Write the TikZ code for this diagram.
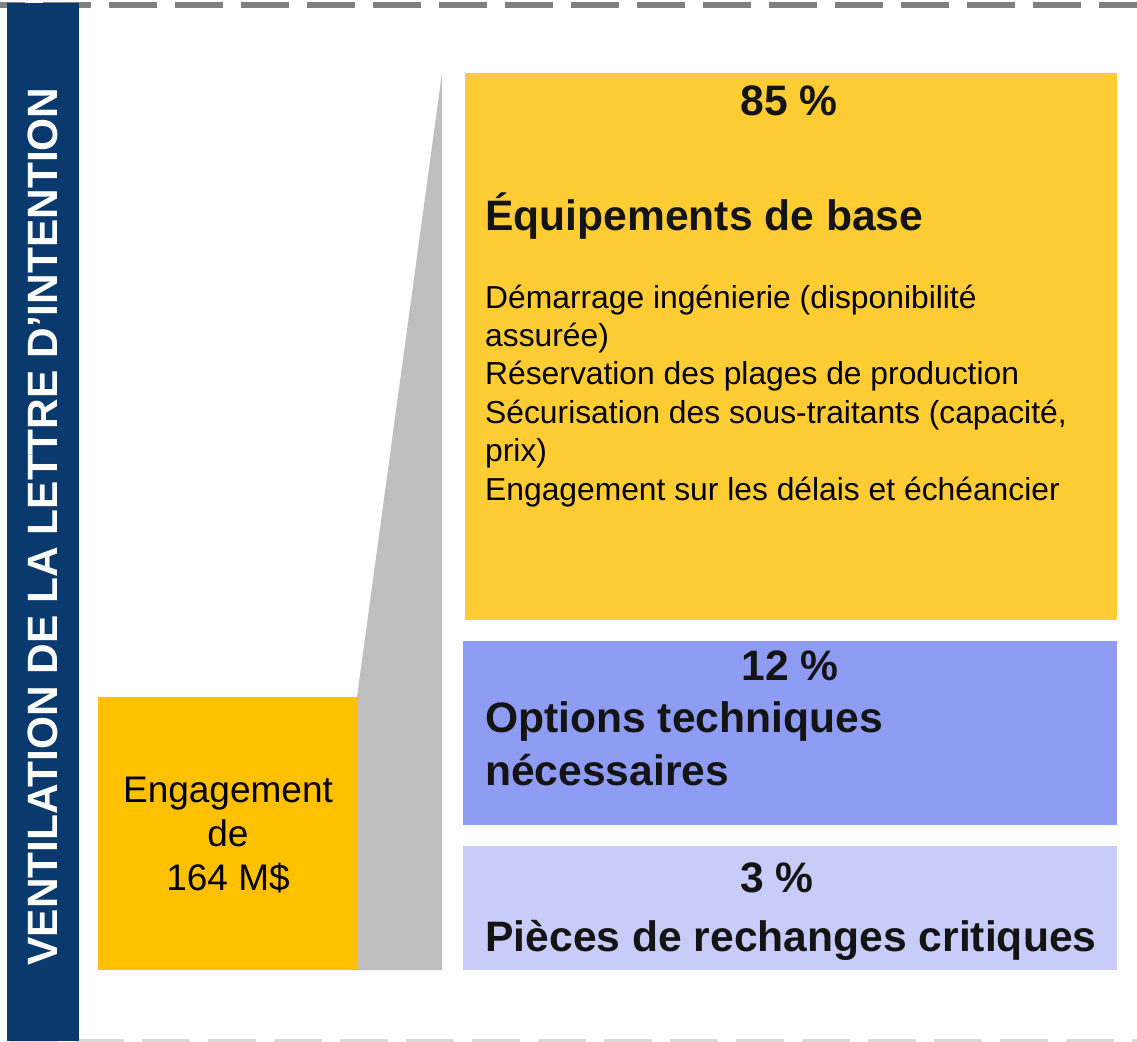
\documentclass[tikz,border=0pt]{standalone}
\usepackage{fontspec}
\setmainfont{Liberation Sans}
\definecolor{navy}{HTML}{0A396D}
\definecolor{goldbig}{HTML}{FFCC33}
\definecolor{goldsmall}{HTML}{FFC000}
\definecolor{wedge}{HTML}{BFBFBF}
\definecolor{midblue}{HTML}{8F9CF4}
\definecolor{paleblue}{HTML}{C8CCF9}
\definecolor{dashgray}{HTML}{808080}
\definecolor{dashlight}{HTML}{D9D9D9}
\definecolor{txt}{HTML}{141414}
\begin{document}
\begin{tikzpicture}[x=1pt,y=-1pt,
  panel/.style={draw=none, inner sep=0, outer sep=0, anchor=north west},
  bigtxt/.style={font=\fontsize{42.6}{50}\selectfont\bfseries, text=txt, inner sep=0},
  bodytxt/.style={font=\fontsize{31.8}{38}\selectfont, text=black, inner sep=0, anchor=base west},
  engtxt/.style={font=\fontsize{37}{44}\selectfont, text=black, inner sep=0, anchor=base},
  ]
\useasboundingbox (0,0) rectangle (1137,1041);
\fill[white] (0,0) rectangle (1137,1041);
% dashed frame lines
\draw[dashgray, line width=6pt, dash pattern=on 48pt off 18pt, dash phase=23pt] (0,5) -- (1137,5);
\draw[dashlight, line width=3pt, dash pattern=on 48pt off 18pt, dash phase=56pt] (0,1040.5) -- (1137,1040.5);
% left title bar
\node[panel, fill=navy, minimum width=72pt, minimum height=1038pt] (bar) at (7,3) {};
\node[font=\fontsize{42.4}{50}\selectfont\bfseries, text=white, rotate=90, inner sep=0] (title) at (43,526.5) {VENTILATION DE LA LETTRE D’INTENTION};
% gray wedge
\coordinate (wtop) at (442,73);
\coordinate (wbot) at (442,970);
% small yellow box
\node[panel, fill=goldsmall, minimum width=259pt, minimum height=273pt] (eng) at (98,697) {};
\fill[wedge] (eng.north east) -- (wtop) -- (wbot) -- (eng.south east) -- cycle;
\node[engtxt] (eng1) at (228,802) {Engagement};
\node[engtxt] (eng2) at (228,846) {de};
\node[engtxt] (eng3) at (228,890) {164 M\$};
% big yellow box
\node[panel, fill=goldbig, minimum width=652pt, minimum height=547pt] (base) at (465,73) {};
\node[bigtxt, anchor=base] (p85) at (789,115) {85 \%};
\node[bigtxt, anchor=base west] (t85) at (485,230) {Équipements de base};
\node[bodytxt] (l1) at (485,308) {Démarrage ingénierie (disponibilité};
\node[bodytxt] (l2) at (485,346.4) {assurée)};
\node[bodytxt] (l3) at (485,384.8) {Réservation des plages de production};
\node[bodytxt] (l4) at (485,423.2) {Sécurisation des sous-traitants (capacité,};
\node[bodytxt] (l5) at (485,461.6) {prix)};
\node[bodytxt] (l6) at (485,500) {Engagement sur les délais et échéancier};
% blue box
\node[panel, fill=midblue, minimum width=654pt, minimum height=184pt] (opt) at (463,641) {};
\node[bigtxt, anchor=base] (p12) at (790,680) {12 \%};
\node[bigtxt, anchor=base west] (t12a) at (485,732) {Options techniques};
\node[bigtxt, anchor=base west] (t12b) at (485,785) {nécessaires};
% pale blue box
\node[panel, fill=paleblue, minimum width=654pt, minimum height=124pt] (spare) at (463,846) {};
\node[bigtxt, anchor=base] (p3) at (777,892) {3 \%};
\node[bigtxt, anchor=base] (t3) at (791,951) {Pièces de rechanges critiques};
\end{tikzpicture}
\end{document}
